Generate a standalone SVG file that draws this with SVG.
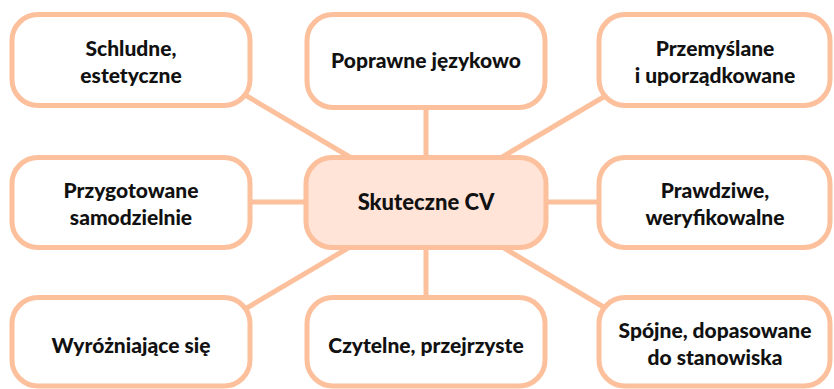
<svg xmlns="http://www.w3.org/2000/svg" width="834" height="389" viewBox="0 0 834 389">
<style>
.box{fill:#ffffff;stroke:#FDC09C;stroke-width:5}
.center{fill:#FFE4D7;stroke:#FDC09C;stroke-width:5}
.con line{stroke:#FDC09C;stroke-width:5}
text{font-family:Lato,"Noto Sans",sans-serif;font-weight:900;font-size:21px;fill:#111;text-anchor:middle}
.big{font-size:22px}
</style>
<rect width="834" height="389" fill="#ffffff"/>
<g id="connectors" class="con">
<line x1="240" y1="92" x2="426" y2="202"/>
<line x1="426" y1="100" x2="426" y2="202"/>
<line x1="612" y1="92" x2="426" y2="202"/>
<line x1="240" y1="202" x2="426" y2="202"/>
<line x1="612" y1="202" x2="426" y2="202"/>
<line x1="240" y1="312" x2="426" y2="202"/>
<line x1="426" y1="310" x2="426" y2="202"/>
<line x1="612" y1="312" x2="426" y2="202"/>
</g>
<g id="n-schludne"><rect class="box" x="12" y="14.5" width="238" height="91" rx="26"/><text x="131" y="56">Schludne,</text><text x="131" y="83">estetyczne</text></g>
<g id="n-poprawne"><rect class="box" x="307" y="14.5" width="238" height="93" rx="26"/><text x="426" y="68">Poprawne językowo</text></g>
<g id="n-przemyslane"><rect class="box" x="599" y="14.5" width="231" height="91" rx="26"/><text x="715" y="56">Przemyślane</text><text x="715" y="83">i uporządkowane</text></g>
<g id="n-przygotowane"><rect class="box" x="12" y="157.5" width="238" height="90" rx="26"/><text x="131" y="198">Przygotowane</text><text x="131" y="225">samodzielnie</text></g>
<g id="n-center"><rect class="center" x="306" y="157.5" width="240" height="90" rx="26"/><text class="big" x="426" y="210">Skuteczne CV</text></g>
<g id="n-prawdziwe"><rect class="box" x="599" y="157.5" width="231" height="90" rx="26"/><text x="715" y="198">Prawdziwe,</text><text x="715" y="225">weryfikowalne</text></g>
<g id="n-wyrozniajace"><rect class="box" x="12" y="297.5" width="238" height="88.5" rx="26"/><text x="131" y="353">Wyróżniające się</text></g>
<g id="n-czytelne"><rect class="box" x="307" y="297.5" width="238" height="88.5" rx="26"/><text x="426" y="353">Czytelne, przejrzyste</text></g>
<g id="n-spojne"><rect class="box" x="599" y="297.5" width="231" height="88.5" rx="26"/><text x="715" y="338">Spójne, dopasowane</text><text x="715" y="365">do stanowiska</text></g>
</svg>
